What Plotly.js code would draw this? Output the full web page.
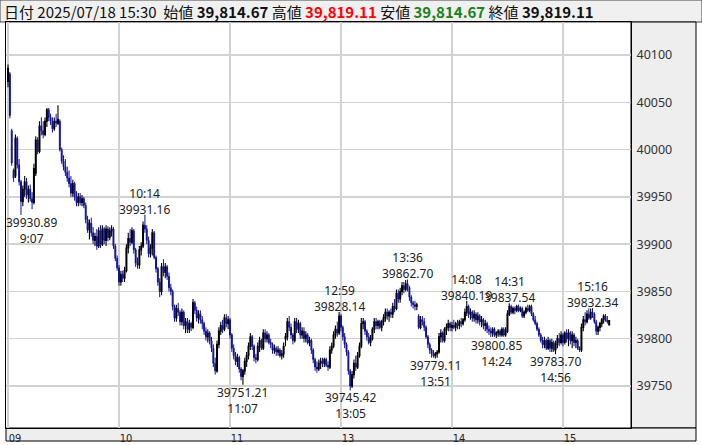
<!DOCTYPE html>
<html><head><meta charset="utf-8">
<script src="https://cdn.plot.ly/plotly-3.0.1.min.js"></script>
<style>html,body{margin:0;padding:0;background:#fff}#chart{width:702px;height:445px}</style>
</head><body><div id="chart"></div>
<script>
// Sessions (1-minute bars)
var sessions = [["09:00","11:29"],["12:30","15:24"],["15:30","15:30"]];

var openVals = [
40072,40080,40020,39978,39972,40012,39984,39966,39945,39958,
39966,39952,39958,39948,39944,39975,40010,39998,40025,40020,
40016,40030,40042,40034,40030,40022,40030,40028,40030,40000,
39988,39982,39976,39970,39964,39954,39964,39950,39944,39950,
39944,39948,39941,39926,39915,39922,39912,39904,39908,39898,
39914,39900,39916,39904,39916,39907,39914,39916,39898,39885,
39875,39860,39868,39864,39872,39896,39906,39902,39914,39894,
39880,39878,39894,39898,39920,39916,39904,39890,39896,39912,
39886,39874,39860,39850,39876,39870,39876,39866,39854,39850,
39834,39822,39832,39828,39818,39828,39814,39818,39810,39816,
39812,39838,39830,39822,39826,39820,39816,39808,39802,39806,
39798,39790,39774,39766,39794,39808,39814,39810,39822,39816,
39820,39804,39790,39782,39776,39780,39768,39760,39766,39776,
39782,39792,39802,39792,39780,39778,39792,39798,39790,39806,
39800,39804,39796,39794,39788,39790,39786,39788,39782,39784,
39800,39802,39818,39812,39804,39798,39818,39810,39816,39804,
39808,39800,39804,39796,39798,39788,39778,39770,39768,39774,
39776,39774,39778,39772,39770,39788,39792,39804,39810,39806,
39824,39812,39802,39794,39786,39766,39750,39762,39774,39770,
39782,39792,39816,39818,39808,39802,39796,39800,39810,39818,
39814,39818,39812,39818,39822,39828,39824,39828,39826,39834,
39832,39848,39842,39850,39856,39852,39858,39854,39844,39838,
39836,39834,39824,39812,39820,39818,39812,39802,39794,39788,
39784,39782,39784,39786,39802,39806,39798,39810,39812,39816,
39812,39814,39812,39816,39814,39818,39816,39820,39828,39834,
39826,39828,39822,39826,39820,39824,39818,39820,39814,39816,
39810,39808,39806,39810,39804,39806,39808,39804,39810,39804,
39808,39826,39834,39828,39832,39830,39834,39830,39832,39824,
39828,39832,39830,39834,39826,39820,39816,39810,39804,39798,
39794,39798,39790,39798,39790,39796,39788,39794,39800,39796,
39804,39796,39806,39800,39806,39798,39804,39796,39798,39790,
39788,39812,39820,39818,39826,39822,39828,39826,39818,39808,
39812,39816,39820,39824,39820,39814.67];

var highVals = [
40090,40082,40022,39980,40016,40014,39990,39968,39962,39972,
39970,39962,39963,39955,39985,40014,40013,40030,40034,40030,
40034,40044,40044,40038,40034,40034,40038,40047,40032,40002,
39994,39990,39982,39978,39972,39968,39966,39956,39954,39954,
39952,39950,39944,39930,39926,39928,39918,39912,39916,39918,
39920,39920,39918,39920,39919,39918,39920,39918,39900,39888,
39878,39872,39872,39876,39900,39912,39916,39918,39916,39896,
39886,39898,39902,39924,39931.16,39920,39908,39900,39916,39914,
39888,39876,39864,39880,39884,39880,39878,39870,39858,39852,
39836,39836,39838,39830,39832,39830,39822,39822,39820,39818,
39842,39840,39834,39830,39830,39824,39818,39812,39810,39808,
39802,39794,39780,39798,39812,39818,39820,39826,39826,39824,
39822,39806,39794,39786,39784,39782,39770,39768,39780,39786,
39796,39806,39804,39794,39784,39796,39802,39800,39810,39810,
39808,39806,39800,39796,39794,39792,39792,39790,39788,39796,
39806,39822,39824,39816,39806,39822,39822,39820,39818,39812,
39812,39808,39806,39802,39800,39790,39780,39776,39778,39780,
39780,39780,39780,39776,39792,39796,39808,39814,39818,39828.14,
39826,39814,39806,39796,39788,39768,39766,39778,39782,39786,
39796,39822,39822,39820,39810,39806,39804,39812,39822,39822,
39820,39820,39820,39826,39832,39832,39830,39832,39838,39842,
39852,39852,39854,39860,39860,39862,39862.70,39856,39846,39840,
39840,39838,39826,39824,39824,39822,39814,39804,39796,39790,
39788,39786,39788,39806,39810,39808,39812,39816,39820,39818,
39818,39820,39818,39820,39820,39822,39822,39832,39840.19,39836,
39832,39830,39830,39828,39828,39826,39824,39822,39820,39818,
39814,39812,39812,39812,39808,39810,39810,39812,39812,39812,
39830,39837.54,39836,39834,39834,39836,39836,39834,39834,39830,
39834,39836,39836,39836,39828,39824,39818,39812,39806,39802,
39802,39800,39802,39800,39800,39798,39798,39804,39806,39808,
39806,39808,39810,39810,39808,39808,39806,39802,39800,39792,
39816,39824,39828,39830,39832,39832,39832.34,39828,39820,39814,
39818,39822,39826,39826,39824,39819.11];

var lowVals = [
40066,40033,39983,39966,39970,39980,39962,39930.89,39940,39950,
39948,39944,39945,39937,39942,39972,39995,39996,40015,40012,
40014,40024,40030,40026,40018,40020,40024,40026,39998,39985,
39978,39972,39966,39960,39950,39950,39946,39940,39940,39941,
39940,39938,39922,39912,39905,39908,39900,39898,39894,39896,
39896,39898,39900,39898,39903,39904,39908,39895,39882,39872,
39856,39856,39860,39860,39870,39890,39898,39900,39890,39876,
39874,39874,39888,39896,39912,39900,39886,39886,39888,39884,
39870,39856,39844,39846,39866,39864,39862,39850,39846,39830,
39818,39818,39824,39814,39814,39810,39806,39806,39806,39808,
39810,39826,39818,39816,39816,39810,39804,39798,39796,39794,
39786,39770,39762,39764,39790,39804,39806,39808,39812,39810,
39800,39786,39778,39772,39770,39764,39756,39751.21,39762,39770,
39778,39788,39788,39776,39774,39776,39786,39788,39788,39796,
39796,39794,39790,39784,39784,39782,39782,39780,39778,39780,
39792,39798,39808,39800,39794,39796,39806,39806,39800,39800,
39796,39796,39794,39792,39784,39774,39766,39764,39766,39768,
39770,39770,39770,39766,39768,39784,39790,39800,39802,39804,
39808,39798,39790,39782,39762,39745.42,39748,39758,39766,39768,
39780,39790,39810,39804,39798,39794,39792,39798,39806,39810,
39810,39810,39808,39814,39818,39820,39818,39822,39822,39828,
39830,39838,39838,39846,39848,39850,39850,39840,39834,39832,
39830,39830,39810,39810,39814,39808,39800,39790,39784,39780,
39780,39779.11,39780,39784,39796,39796,39796,39804,39808,39808,
39808,39810,39808,39810,39810,39812,39814,39818,39824,39822,
39820,39818,39818,39816,39816,39814,39812,39810,39808,39806,
39804,39802,39802,39802,39800.85,39802,39802,39802,39802,39802,
39806,39824,39826,39826,39826,39828,39828,39828,39822,39822,
39826,39828,39828,39824,39818,39814,39808,39802,39796,39790,
39790,39788,39788,39786,39786,39786,39783.70,39790,39792,39794,
39792,39794,39796,39792,39794,39790,39792,39790,39788,39786,
39786,39808,39814,39816,39820,39820,39822,39816,39804,39804,
39808,39812,39816,39818,39816,39814.67];

var closeVals = [
40086,40036,39986,39970,40012,39984,39966,39945,39958,39966,
39952,39958,39948,39944,39980,40010,39998,40025,40020,40016,
40030,40042,40034,40030,40022,40030,40028,40032,40000,39988,
39982,39976,39970,39964,39954,39964,39950,39944,39950,39944,
39948,39941,39926,39915,39922,39912,39904,39908,39898,39914,
39900,39916,39904,39916,39907,39914,39916,39898,39885,39875,
39860,39868,39864,39872,39896,39906,39902,39914,39894,39880,
39878,39894,39898,39920,39916,39904,39890,39896,39912,39886,
39874,39860,39850,39876,39870,39876,39866,39854,39850,39834,
39822,39832,39828,39818,39828,39814,39818,39810,39816,39812,
39838,39830,39822,39826,39820,39816,39808,39802,39806,39798,
39790,39774,39766,39794,39808,39814,39810,39822,39816,39820,
39804,39790,39782,39776,39780,39768,39760,39766,39776,39782,
39792,39802,39792,39780,39778,39792,39798,39790,39806,39800,
39804,39796,39794,39788,39790,39786,39788,39782,39784,39792,
39802,39818,39812,39804,39798,39818,39810,39816,39804,39808,
39800,39804,39796,39798,39788,39778,39770,39768,39774,39776,
39774,39778,39772,39770,39788,39792,39804,39810,39806,39824,
39812,39802,39794,39786,39766,39750,39762,39774,39770,39782,
39792,39816,39818,39808,39802,39796,39800,39810,39818,39814,
39818,39812,39818,39822,39828,39824,39828,39826,39834,39832,
39848,39842,39850,39856,39852,39858,39854,39844,39838,39836,
39834,39836,39812,39820,39818,39812,39802,39794,39788,39784,
39782,39784,39786,39802,39806,39798,39810,39812,39816,39812,
39814,39812,39816,39814,39818,39816,39820,39828,39834,39826,
39828,39822,39826,39820,39824,39818,39820,39814,39816,39810,
39808,39806,39810,39804,39806,39808,39804,39810,39804,39808,
39826,39834,39828,39832,39830,39834,39830,39832,39824,39828,
39832,39830,39834,39826,39820,39816,39810,39804,39798,39794,
39798,39790,39798,39790,39796,39788,39794,39800,39796,39804,
39796,39806,39800,39806,39798,39804,39796,39798,39790,39788,
39812,39820,39818,39826,39822,39828,39826,39818,39808,39812,
39816,39820,39824,39820,39818,39819.11];

var tickTimes = ["09:00","10:00","11:00","13:00","14:00","15:00"];
var tickLabels = ["09","10","11","13","14","15"];
var priceTicks = [39750,39800,39850,39900,39950,40000,40050,40100];

var highLabelTimes = ["10:14","12:59","13:36","14:08","14:31","15:16"];
var highLabelValues = [39931.16,39828.14,39862.70,39840.19,39837.54,39832.34];
var lowLabelTimes = ["09:07","11:07","13:05","13:51","14:24","14:56"];
var lowLabelValues = [39930.89,39751.21,39745.42,39779.11,39800.85,39783.70];

var headerDate = "2025/07/18";
var headerTime = "15:30";
var headerOpen = 39814.67, headerHigh = 39819.11, headerLow = 39814.67, headerClose = 39819.11;

// ---- build
function pad(n){return (n<10?"0":"")+n;}
function toMin(s){var p=s.split(":");return (+p[0])*60+(+p[1]);}
var times = [];
sessions.forEach(function(se){
  for(var m=toMin(se[0]); m<=toMin(se[1]); m++) times.push(pad(Math.floor(m/60))+":"+pad(m%60));
});
function fmtComma(v){
  var s=v.toFixed(2), parts=s.split(".");
  return parts[0].replace(/\B(?=(\d{3})+(?!\d))/g,",")+"."+parts[1];
}
function shortT(t){return t.replace(/^0/,"");}

var trace = {
  type:"candlestick", x:times, open:openVals, high:highVals, low:lowVals, close:closeVals,
  increasing:{line:{color:"#000000",width:1.1},fillcolor:"#000000"},
  decreasing:{line:{color:"#10109a",width:1},fillcolor:"#10109a"},
  whiskerwidth:0, hoverinfo:"skip", showlegend:false
};

var F = "Noto Sans, DejaVu Sans, sans-serif";
var lf = {family:F,size:12,color:"#222"};
var ann = [];
highLabelTimes.forEach(function(t,i){
  ann.push({x:t,y:highLabelValues[i],xref:"x",yref:"y",text:shortT(t)+"<br>"+highLabelValues[i].toFixed(2),
    showarrow:false,xanchor:"center",yanchor:"bottom",yshift:-4,borderpad:0,align:"center",font:lf});
});
lowLabelTimes.forEach(function(t,i){
  var a={x:t,y:lowLabelValues[i],xref:"x",yref:"y",text:lowLabelValues[i].toFixed(2)+"<br>"+shortT(t),
    showarrow:false,xanchor:"center",yanchor:"top",yshift:2,borderpad:0,align:"center",font:lf};
  if(i===0){ a.xanchor="left"; a.xshift=-16; }
  ann.push(a);
});
var sp="\u00a0";
var hdr = "日付"+sp+headerDate+sp+headerTime+sp+sp+"始値"+sp+"<b>"+fmtComma(headerOpen)+"</b>"+sp+
  "高値"+sp+"<b><span style='color:#ff0000'>"+fmtComma(headerHigh)+"</span></b>"+sp+
  "安値"+sp+"<b><span style='color:#1a821a'>"+fmtComma(headerLow)+"</span></b>"+sp+
  "終値"+sp+"<b>"+fmtComma(headerClose)+"</b>";
ann.push({xref:"paper",yref:"paper",x:-0.0064,y:(428-11)/406,xanchor:"left",yanchor:"middle",showarrow:false,
  text:hdr,font:{family:"Noto Sans CJK JP, Noto Sans, sans-serif",size:15,color:"#111"}});

var W=625,H=406;
function px(p){return (p-6)/W;} function py(p){return (428-p)/H;}
var shapes = [
  {type:"rect",xref:"paper",yref:"paper",x0:px(0),x1:px(702),y0:py(22),y1:py(0),fillcolor:"#f0f0f0",line:{color:"#444",width:1},layer:"below"},
  {type:"rect",xref:"paper",yref:"paper",x0:1,x1:px(696),y0:0,y1:1,fillcolor:"#eeeeee",line:{color:"#000",width:1},layer:"below"},
  {type:"rect",xref:"paper",yref:"paper",x0:0,x1:px(696),y0:py(441),y1:0,fillcolor:"#eeeeee",line:{color:"#000",width:1},layer:"below"}
];

var layout = {
  width:702,height:445,margin:{l:6,r:71,t:22,b:17,pad:0},
  paper_bgcolor:"#ffffff",plot_bgcolor:"#ffffff",
  showlegend:false,
  xaxis:{type:"category",range:[-1.1,336.8],rangeslider:{visible:false},
    tickmode:"array",tickvals:tickTimes,ticktext:tickLabels,ticks:"",
    showgrid:true,gridcolor:"#d2d2d2",gridwidth:1.5,zeroline:false,
    showline:true,mirror:true,linecolor:"#000",linewidth:1,
    tickfont:{family:"Liberation Sans Narrow, DejaVu Sans Condensed, sans-serif",size:11,color:"#222"},
    ticklabelshift:7,ticklabelstandoff:0,fixedrange:true},
  yaxis:{side:"right",range:[39705.6,40134.9],tickmode:"array",
    tickvals:priceTicks,ticktext:priceTicks.map(String),ticks:"",
    showgrid:true,gridcolor:"#d2d2d2",gridwidth:1.5,zeroline:false,
    showline:true,mirror:true,linecolor:"#000",linewidth:1,
    tickfont:{family:F,size:12.5,color:"#333"},ticklabelstandoff:2,fixedrange:true},
  shapes:shapes, annotations:ann, boxgap:0.3
};
Plotly.newPlot("chart",[trace],layout,{displayModeBar:false,staticPlot:true});
</script></body></html>
